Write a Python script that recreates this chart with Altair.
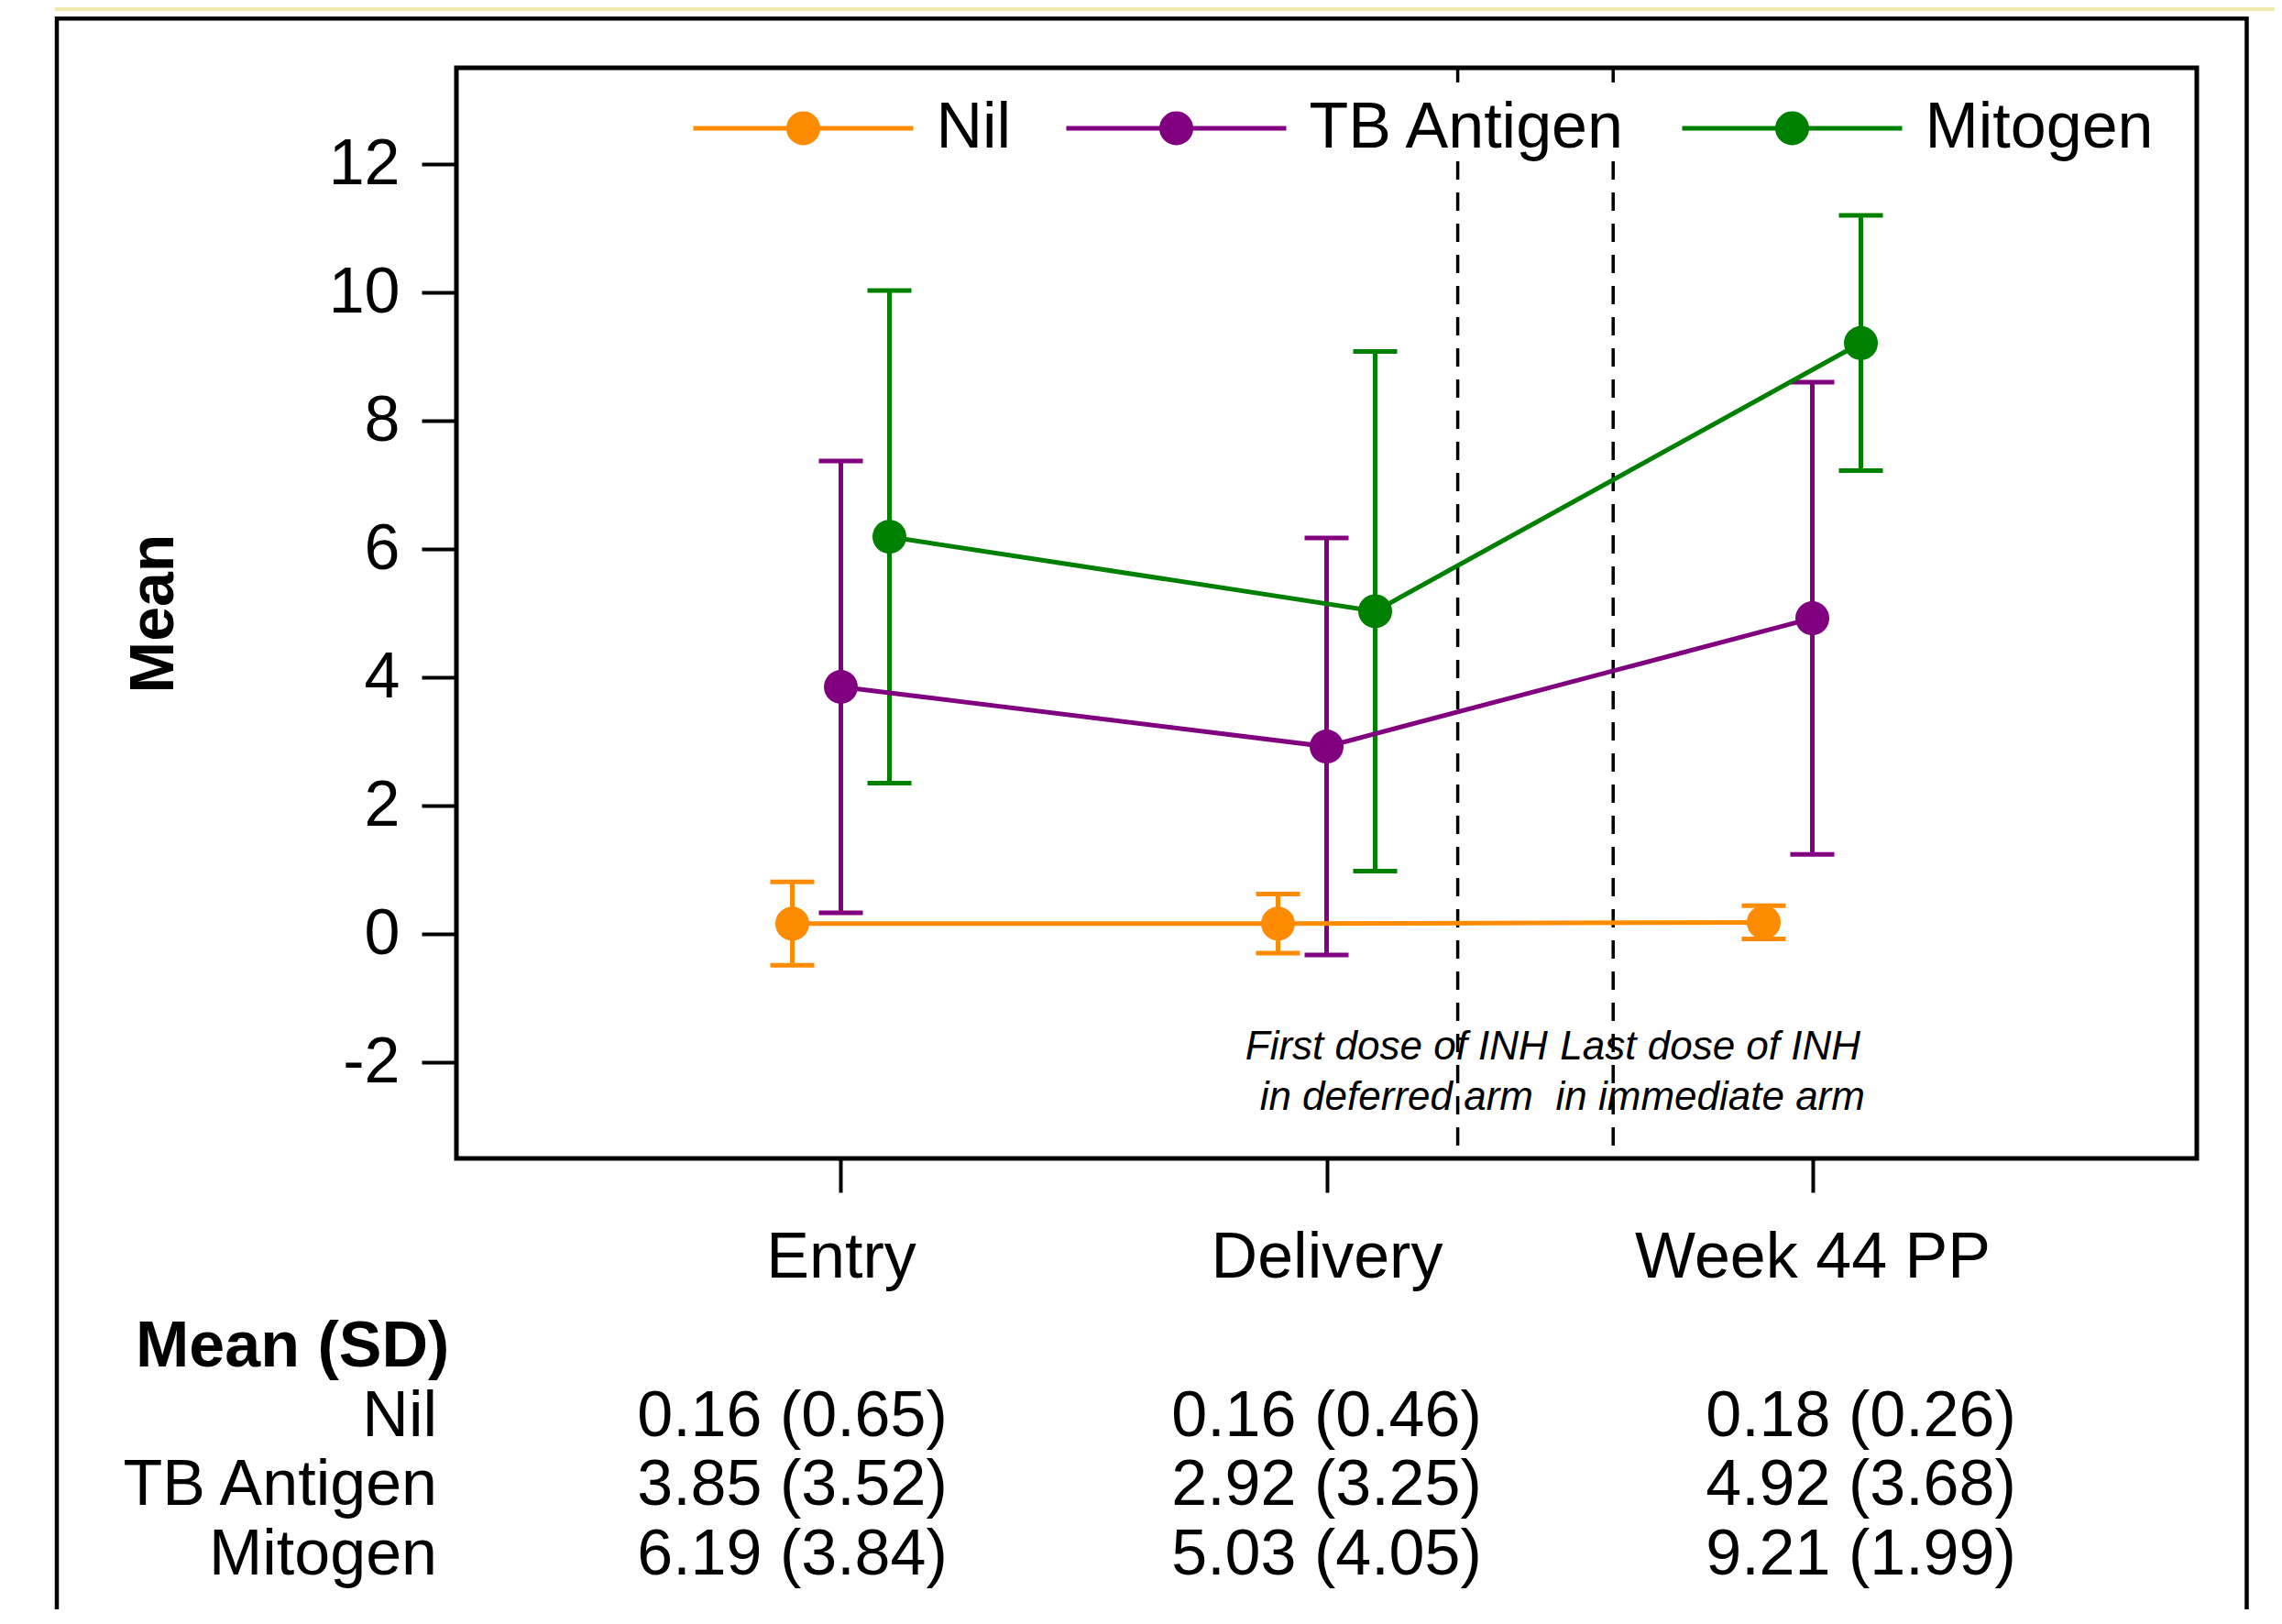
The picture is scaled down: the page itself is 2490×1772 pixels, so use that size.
import json
import altair as alt
import pandas as pd

# ---------------- data ----------------
timepoints = ["Entry", "Delivery", "Week 44 PP"]
groups = ["Nil", "TB Antigen", "Mitogen"]
nil_mean = [0.16, 0.16, 0.18]
nil_sd = [0.65, 0.46, 0.26]
tb_mean = [3.85, 2.92, 4.92]
tb_sd = [3.52, 3.25, 3.68]
mito_mean = [6.19, 5.03, 9.21]
mito_sd = [3.84, 4.05, 1.99]
colors = ["#FF8C00", "#800080", "#008000"]
y_ticks = [-2, 0, 2, 4, 6, 8, 10, 12]
event_labels = ["First dose of INH\n in deferred arm", "Last dose of INH\nin immediate arm"]
table_header = "Mean (SD)"

# ---------------- layout constants ----------------
group_offset = [-0.1, 0.0, 0.1]
event_x = [2.27, 2.59]
event_label_x = [2.144, 2.79]
event_label_y = [-1.96, -1.96]
table_cols = [0.9, 2.0, 3.1]
W, H = 1899, 1190
FONT = "Liberation Sans"
SW = 5  # data stroke width

means = [nil_mean, tb_mean, mito_mean]
sds = [nil_sd, tb_sd, mito_sd]

rows = []
for gi, g in enumerate(groups):
    for ti, t in enumerate(timepoints):
        m, s = means[gi][ti], sds[gi][ti]
        rows.append({"group": g, "time": t, "xpos": ti + 1 + group_offset[gi],
                     "mean": m, "lo": m - s, "hi": m + s})
df = pd.DataFrame(rows)

table_rows = []
for gi, g in enumerate(groups):
    for ti, t in enumerate(timepoints):
        table_rows.append({"row": gi + 1, "xcol": table_cols[ti],
                           "txt": f"{means[gi][ti]:.2f} ({sds[gi][ti]:.2f})"})
table_df = pd.DataFrame(table_rows)
rowlab_df = pd.DataFrame({"row": [i + 1 for i in range(len(groups))], "txt": groups})
header_df = pd.DataFrame({"row": [0], "txt": [table_header]})
annot_df = pd.DataFrame({"ax": event_label_x, "ay": event_label_y, "label": event_labels})
event_df = pd.DataFrame({"xpos": event_x})

# ---------------- scales / axes ----------------
xscale = alt.Scale(domain=[0.2085, 3.7915], nice=False, zero=False)
yscale = alt.Scale(domain=[-3.5, 13.5], nice=False, zero=False)
label_expr = json.dumps(timepoints) + "[datum.value - 1]"
xaxis = alt.Axis(values=[1, 2, 3], labelExpr=label_expr, title=None, grid=False, domain=False,
                 tickSize=37, tickWidth=4, tickColor="black", labelFontSize=70, labelLimit=0,
                 labelColor="black", labelBaseline="alphabetic", labelPadding=92, labelFont=FONT)
yaxis = alt.Axis(values=y_ticks, labelExpr="'' + datum.value", title="Mean", grid=False,
                 domain=False, tickSize=38, tickWidth=4, labelLimit=0,
                 tickColor="black", labelFontSize=70, labelColor="black", labelPadding=24,
                 labelBaseline="middle", labelFont=FONT,
                 titleFontSize=68, titleFontWeight="bold", titleColor="black", titleFont=FONT,
                 titleAngle=270, titleX=-330, titleY=H / 2, titleAlign="center",
                 titleBaseline="middle")


def X(field):
    return alt.X(field, type="quantitative", scale=xscale, axis=xaxis)


def Y(field):
    return alt.Y(field, type="quantitative", scale=yscale, axis=yaxis)


# legend symbol: a 240px line with a filled 37px dot (dot built from concentric stroked rings)
L = 2.5263
path = f"M{-L},0H{L}"
for r in [0.0421, 0.1263, 0.2105, 0.2947, 0.3368]:
    path += f"M{r},0A{r},{r},0,1,1,{-r},0A{r},{r},0,1,1,{r},0Z"

legend = alt.Legend(orient="none", legendX=328.5, legendY=16, direction="horizontal", title=None,
                    symbolType=path, symbolSize=9025, symbolStrokeWidth=SW, labelFontSize=70,
                    labelColor="black", labelFont=FONT, labelOffset=95, columnPadding=50,
                    labelLimit=0, padding=0, fillColor="white", symbolOpacity=1)
cscale = alt.Scale(domain=groups, range=colors)
color_leg = alt.Color("group:N", scale=cscale, legend=legend)

base = alt.Chart(df)
lines = base.mark_line(strokeWidth=SW).encode(x=X("xpos"), y=Y("mean"), color=color_leg,
                                               order="xpos:Q")
bars = base.mark_rule(strokeWidth=SW).encode(x=X("xpos"), y=Y("lo"), y2="hi", color=color_leg)
cap_lo = base.mark_tick(orient="horizontal", size=48, thickness=SW, opacity=1).encode(
    x=X("xpos"), y=Y("lo"), color=color_leg)
cap_hi = base.mark_tick(orient="horizontal", size=48, thickness=SW, opacity=1).encode(
    x=X("xpos"), y=Y("hi"), color=color_leg)
points = base.mark_circle(size=1369, opacity=1).encode(x=X("xpos"), y=Y("mean"), color=color_leg)

events = alt.Chart(event_df).mark_rule(color="black", strokeWidth=3.5, strokeDash=[20, 14]).encode(
    x=X("xpos"))
annots = alt.Chart(annot_df).mark_text(fontSize=44, fontStyle="italic", font=FONT, color="black",
                                       align="center", baseline="alphabetic", lineBreak="\n",
                                       lineHeight=55).encode(
    x=X("ax"), y=Y("ay"), text="label:N")

plot = alt.layer(events, bars, cap_lo, cap_hi, lines, points, annots)

# table below the plot (own row scale)
rowscale = alt.Scale(domain=[0, 3], range=[1417, 1644])
tvals = alt.Chart(table_df).mark_text(fontSize=70, font=FONT, color="black", align="center",
                                      baseline="alphabetic").encode(
    x=X("xcol"), y=alt.Y("row:Q", scale=rowscale, axis=None), text="txt:N")
tlabs = alt.Chart(rowlab_df).mark_text(fontSize=70, font=FONT, color="black", align="right",
                                       baseline="alphabetic").encode(
    x=alt.value(-21), y=alt.Y("row:Q", scale=rowscale, axis=None), text="txt:N")
thead = alt.Chart(header_df).mark_text(fontSize=70, font=FONT, fontWeight="bold", color="black",
                                       align="left", baseline="alphabetic").encode(
    x=alt.value(-350), y=alt.Y("row:Q", scale=rowscale, axis=None), text="txt:N")
table = alt.layer(tvals, tlabs, thead)

one = pd.DataFrame({"k": [1]})
frame = alt.Chart(one).mark_rect(fill="white", fillOpacity=0, stroke="black", strokeWidth=4.5).encode(
    x=alt.value(-436), x2=alt.value(1953.5), y=alt.value(-53.7), y2=alt.value(1720))
band = alt.Chart(one).mark_rect(fill="#F3EAAD").encode(
    x=alt.value(-438), x2=alt.value(1984), y=alt.value(-66), y2=alt.value(-62))

chart = alt.layer(band, frame, plot, table).resolve_scale(y="independent").properties(
    width=W, height=H,
    autosize=alt.AutoSizeParams(type="none"),
    padding={"left": 490, "top": 66, "right": 85, "bottom": 492},
).configure(font=FONT, background="white").configure_view(stroke="black", strokeWidth=5)

chart.save("out.html", embed_options={"renderer": "svg", "actions": False})
